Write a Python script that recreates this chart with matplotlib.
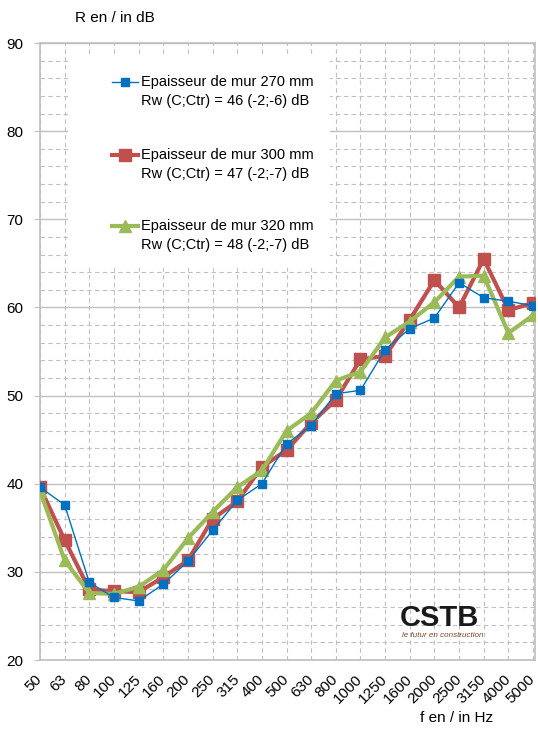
import matplotlib
matplotlib.use("Agg")
import matplotlib.pyplot as plt
from matplotlib.lines import Line2D
from matplotlib.patches import Rectangle
from matplotlib.ticker import MultipleLocator

plt.rcParams['font.family'] = ['Liberation Sans', 'DejaVu Sans']

freqs = ["50", "63", "80", "100", "125", "160", "200", "250", "315", "400", "500",
         "630", "800", "1000", "1250", "1600", "2000", "2500", "3150", "4000", "5000"]
r_270 = [39.6, 37.6, 28.8, 27.1, 26.7, 28.6, 31.2, 34.7, 38.1, 40.0, 44.5,
         46.6, 50.2, 50.6, 55.2, 57.6, 58.8, 62.8, 61.1, 60.7, 60.2]
r_300 = [39.6, 33.6, 28.0, 27.8, 27.7, 29.4, 31.3, 36.0, 38.0, 41.9, 43.8,
         46.9, 49.5, 54.1, 54.5, 58.6, 63.1, 60.0, 65.5, 59.7, 60.5]
r_320 = [39.2, 31.3, 27.6, 27.5, 28.3, 30.2, 33.8, 36.8, 39.6, 41.5, 46.0,
         48.0, 51.7, 52.7, 56.6, 58.4, 60.6, 63.5, 63.6, 57.1, 59.1]
label_l1 = ["Epaisseur de mur 270 mm", "Epaisseur de mur 300 mm", "Epaisseur de mur 320 mm"]
label_l2 = ["Rw (C;Ctr) = 46 (-2;-6) dB", "Rw (C;Ctr) = 47 (-2;-7) dB", "Rw (C;Ctr) = 48 (-2;-7) dB"]

blue, red, green = "#0070C0", "#C0504D", "#9BBB59"
W, H = 538, 731

fig = plt.figure(figsize=(W/100, H/100), dpi=100)
ax = fig.add_axes([40/W, 1-660/H, 495/W, 617/H])
x = list(range(len(freqs)))

ax.set_xlim(0, len(freqs) - 1 + 0.08)
ax.set_ylim(20, 90)
ax.yaxis.set_major_locator(MultipleLocator(10))
ax.yaxis.set_minor_locator(MultipleLocator(2))
ax.set_xticks(x)
ax.set_xticklabels(freqs, rotation=45, ha='right', va='center', rotation_mode='anchor', fontsize=11)
ax.tick_params(axis='x', length=0, pad=12)
ax.tick_params(axis='y', which='major', length=4, color='#bfbfbf', labelsize=11, pad=8)
ax.tick_params(axis='y', which='minor', length=0)

ax.grid(axis='y', which='major', color='#c0c0c0', linewidth=1.0, linestyle='-', zorder=0)
ax.grid(axis='y', which='minor', color='#c0c0c0', linewidth=0.8, linestyle=(0, (4, 3)), zorder=0)
ax.grid(axis='x', which='major', color='#c0c0c0', linewidth=0.8, linestyle=(0, (4, 3)), zorder=0)
ax.set_axisbelow(True)
for s in ax.spines.values():
    s.set_color('#bfbfbf')
    s.set_linewidth(1.2)

# legend white background
ax.add_patch(Rectangle((0.0566, 0.635), 0.53, 0.346, transform=ax.transAxes,
                       facecolor='white', edgecolor='none', zorder=1))

ax.plot(x, r_270, color=blue, linewidth=1.0, marker='s', markersize=5.5, zorder=5)
ax.plot(x, r_300, color=red, linewidth=3.0, marker='s', markersize=8.5, zorder=3)
ax.plot(x, r_320, color=green, linewidth=3.0, marker='^', markersize=8.5, zorder=4)

# manual legend (handle aligned with first text line)
styles = [dict(color=blue, linewidth=1.0, marker='s', markersize=5.5),
          dict(color=red, linewidth=3.0, marker='s', markersize=8.5),
          dict(color=green, linewidth=3.0, marker='^', markersize=8.5)]
entry_y = [82, 154.5, 226]
for st, yy, t1, t2 in zip(styles, entry_y, label_l1, label_l2):
    fy = 1 - yy/H
    fig.add_artist(Line2D([112/W, 138/W], [fy, fy], color=st['color'], linewidth=st['linewidth'],
                          transform=fig.transFigure, zorder=7))
    fig.add_artist(Line2D([125/W], [fy], color=st['color'], marker=st['marker'],
                          markersize=st['markersize'], linestyle='none',
                          transform=fig.transFigure, zorder=8))
    fig.text(141/W, fy, t1, fontsize=10.5, ha='left', va='center', zorder=9)
    fig.text(141/W, 1 - (yy + 19.5)/H, t2, fontsize=10.5, ha='left', va='center', zorder=9)

fig.text(75/W, 1-18/H, "R en / in dB", fontsize=11, ha='left', va='center')
fig.text(420/W, 1-718/H, "f en / in Hz", fontsize=11, ha='left', va='center')

# CSTB logo as text
fig.text(400/W, 1-618/H, "CSTB", fontsize=21, fontweight='bold', color='#1a1a1a',
         ha='left', va='center')
fig.text(402/W, 1-635.5/H, "le futur en construction", fontsize=5.8, style='italic',
         color='#7a4a2a', ha='left', va='center')

fig.savefig("out.png", dpi=100, facecolor='white')
